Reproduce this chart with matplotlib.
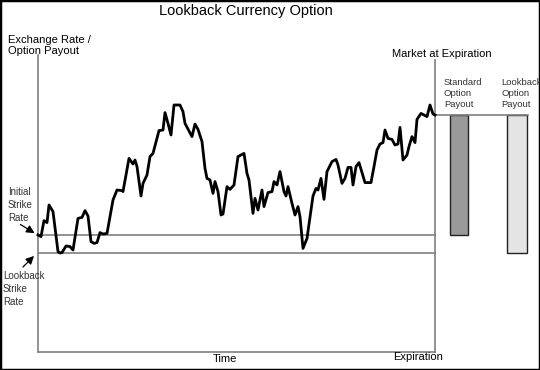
import matplotlib

matplotlib.use("Agg")
import matplotlib.pyplot as plt
from matplotlib.patches import Rectangle

plt.rcParams["font.family"] = ["Liberation Sans", "DejaVu Sans"]

# exchange rate path over time (days to expiration = 397)
days = [0, 3, 6, 9, 11, 15, 20, 22, 24, 28, 32, 35, 40, 44, 47, 50, 53, 56, 59, 62, 65, 69,
        75, 79, 84, 85, 91, 95, 97, 99, 103, 105, 109, 112, 115, 121, 125, 127, 130, 133,
        136, 142, 145, 147, 154, 157, 160, 164, 167, 169, 172, 175, 177, 180, 183, 185,
        189, 192, 196, 200, 206, 209, 211, 215, 217, 220, 224, 226, 230, 234, 236, 239,
        242, 246, 248, 250, 254, 257, 260, 262, 265, 269, 275, 278, 280, 283, 286, 289,
        294, 298, 300, 304, 307, 310, 313, 315, 318, 321, 327, 333, 336, 339, 342, 345,
        347, 350, 354, 357, 360, 362, 365, 369, 371, 374, 377, 379, 383, 386, 389, 392,
        395, 397]
rate = [1.000, 0.992, 1.072, 1.062, 1.150, 1.117, 0.917, 0.910, 0.912, 0.945, 0.942, 0.925,
        1.083, 1.088, 1.122, 1.095, 0.967, 0.958, 0.962, 1.012, 1.005, 1.008,
        1.175, 1.225, 1.222, 1.217, 1.383, 1.355, 1.375, 1.342, 1.195, 1.258, 1.300, 1.392,
        1.408, 1.522, 1.525, 1.612, 1.558, 1.500,
        1.650, 1.650, 1.617, 1.558, 1.492, 1.555, 1.528, 1.467, 1.333, 1.283, 1.275, 1.208,
        1.267, 1.217, 1.100, 1.105,
        1.242, 1.228, 1.250, 1.392, 1.408, 1.308, 1.275, 1.108, 1.183, 1.125, 1.225, 1.142,
        1.212, 1.217, 1.267, 1.250,
        1.317, 1.217, 1.195, 1.242, 1.158, 1.100, 1.142, 1.092, 0.933, 0.983, 1.195, 1.233,
        1.225, 1.283, 1.178, 1.317,
        1.367, 1.378, 1.350, 1.258, 1.283, 1.338, 1.338, 1.250, 1.342, 1.362, 1.262, 1.262,
        1.342, 1.425, 1.455, 1.462,
        1.525, 1.483, 1.478, 1.450, 1.455, 1.538, 1.375, 1.400, 1.442, 1.492, 1.462, 1.578,
        1.608, 1.600, 1.592, 1.650,
        1.605, 1.600]

initial_strike = rate[0]
lookback_strike = min(rate)
final_rate = rate[-1]
payout_labels = ["Standard\nOption\nPayout", "Lookback\nOption\nPayout"]
payout_strikes = [initial_strike, lookback_strike]
payout_x = [421, 479]
payout_width = [18, 20]
payout_colors = ["#9a9a9a", "#e4e4e4"]

expiry = days[-1]
y_bottom = 0.415
axis_gray = "#808080"

fig = plt.figure(figsize=(5.4, 3.7), dpi=100)
ax = fig.add_axes([0, 0, 1, 1])
ax.set_xlim(-38, 502)
ax.set_ylim(0.325, 2.175)
ax.axis("off")

# axes frame of the chart
ax.plot([0, 0], [y_bottom, 1.90], color=axis_gray, lw=1.2)
ax.plot([0, expiry], [y_bottom, y_bottom], color=axis_gray, lw=1.2)
ax.plot([expiry, expiry], [y_bottom, 1.875], color=axis_gray, lw=1.2)
ax.plot([expiry, 490], [final_rate, final_rate], color=axis_gray, lw=1.2)

# strike levels
ax.plot([0, expiry], [initial_strike, initial_strike], color=axis_gray, lw=1.2)
ax.plot([0, expiry], [lookback_strike, lookback_strike], color=axis_gray, lw=1.2)

ax.plot(days, rate, color="black", lw=2.0, solid_joinstyle="round", zorder=3)

# payout bars at expiration
for x, w, strike, color, label in zip(payout_x, payout_width, payout_strikes, payout_colors, payout_labels):
    ax.bar(x, final_rate - strike, bottom=strike, width=w, color=color,
           edgecolor="#222222", linewidth=1.0, align="center")
    ax.text(x - w / 2 - 6, 1.785, label, fontsize=6.8, color="#333333",
            ha="left", va="top", linespacing=1.3)

ax.text(208, 2.12, "Lookback Currency Option", fontsize=10.5, ha="center", va="center")
ax.text(-30, 2.0, "Exchange Rate /\nOption Payout", fontsize=8, ha="left", va="top",
        linespacing=1.15)
ax.text(404, 1.89, "Market at Expiration", fontsize=8, ha="center", va="baseline")
ax.text(187, 0.38, "Time", fontsize=8, ha="center", va="center")
ax.text(380, 0.39, "Expiration", fontsize=8, ha="center", va="center")

ax.text(-30, 1.24, "Initial\nStrike\nRate", fontsize=7, color="#333333",
        ha="left", va="top", linespacing=1.35)
ax.text(-35, 0.82, "Lookback\nStrike\nRate", fontsize=7, color="#333333",
        ha="left", va="top", linespacing=1.35)
ax.annotate("", xy=(-1, initial_strike + 0.002), xytext=(-20, 1.06),
            arrowprops=dict(arrowstyle="-|>", color="black", lw=0.9, mutation_scale=12))
ax.annotate("", xy=(-2, lookback_strike - 0.005), xytext=(-17, 0.83),
            arrowprops=dict(arrowstyle="-|>", color="black", lw=0.9, mutation_scale=12))

fig.patches.append(Rectangle((0, 0), 1, 1, transform=fig.transFigure, fill=False,
                             edgecolor="black", linewidth=2.5))

fig.savefig("out.png", dpi=100)
